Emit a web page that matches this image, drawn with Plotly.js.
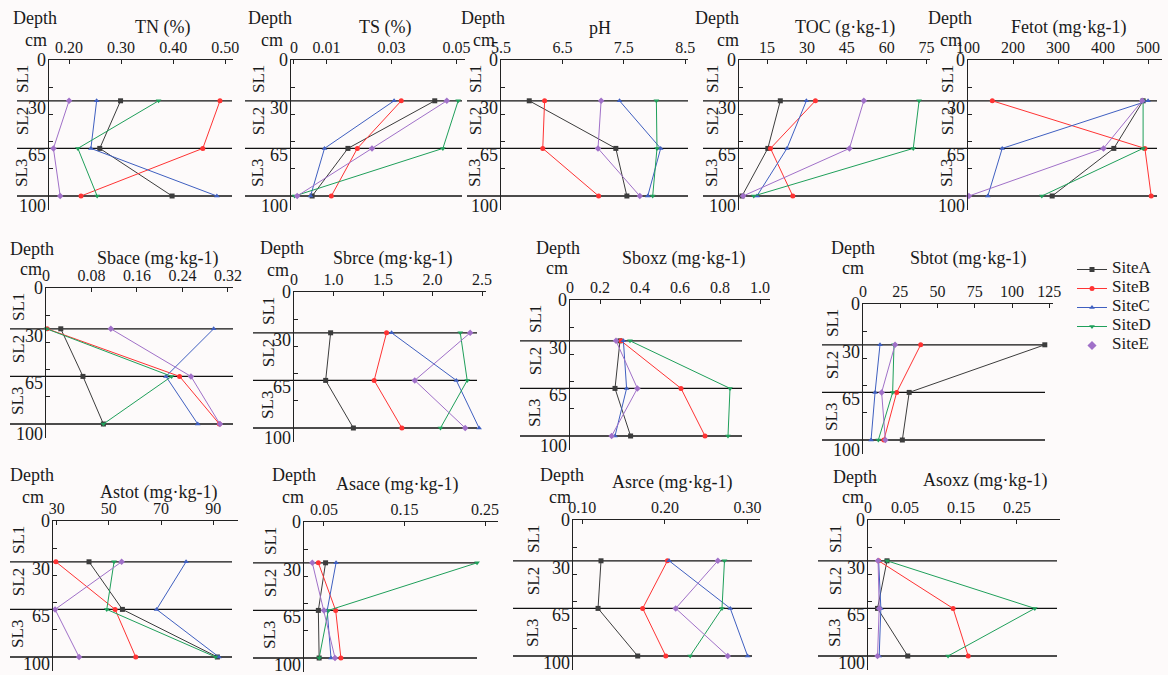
<!DOCTYPE html>
<html><head><meta charset="utf-8">
<script src="https://cdn.plot.ly/plotly-3.0.1.min.js"></script>
<style>html,body{margin:0;padding:0;background:#fdfafa;}#chart{width:1168px;height:675px;}</style>
</head><body><div id="chart"></div>
<script>
// ---- data (rows: SiteA..SiteE; columns: depth 30, 65, 100 cm) ----
const siteNames = ['SiteA','SiteB','SiteC','SiteD','SiteE'];
const depth = [30, 65, 100];
const TN    = [[0.299,0.259,0.398],[0.490,0.457,0.223],[0.253,0.242,0.484],[0.372,0.217,0.254],[0.200,0.170,0.183]];
const TS    = [[0.0433,0.0166,0.0056],[0.0330,0.0195,0.0115],[0.0308,0.0094,0.0051],[0.0505,0.0458,0.0002],[0.0470,0.0240,0.0010]];
const pH    = [[5.96,7.37,7.55],[6.21,6.18,7.09],[7.43,8.10,7.89],[8.03,8.04,7.97],[7.13,7.08,7.76]];
const TOC   = [[20.0,15.3,5.6],[33.2,16.3,24.7],[29.8,22.5,11.2],[72.2,70.0,10.0],[51.4,46.0,6.0]];
const Fetot = [[489,424,287],[154,493,507],[500,176,144],[489,489,264],[487,401,102]];
const Sbace = [[0.026,0.065,0.101],[0.002,0.235,0.305],[0.295,0.211,0.267],[0.001,0.221,0.101],[0.114,0.255,0.306]];
const Sbrce = [[0.97,0.92,1.20],[1.535,1.41,1.69],[1.586,2.24,2.47],[2.28,2.35,2.08],[2.38,1.82,2.33]];
const Sboxz = [[0.300,0.275,0.353],[0.305,0.605,0.725],[0.317,0.333,0.275],[0.350,0.850,0.840],[0.280,0.387,0.258]];
const Sbtot = [[122,31,26.4],[38.7,22.6,14],[11.4,8.1,5.4],[20.8,19.9,10.3],[21.5,12.5,15]];
const Astot = [[42.4,55.2,91.6],[29.7,52.4,60.3],[79.6,68.3,92.2],[52.0,49.2,90.9],[54.9,29.4,38.6]];
const Asace = [[0.052,0.043,0.044],[0.043,0.0645,0.071],[0.065,0.054,0.0587],[0.240,0.0554,0.044],[0.0355,0.050,0.0637]];
const Asrce = [[0.1226,0.119,0.167],[0.203,0.173,0.201],[0.205,0.279,0.300],[0.272,0.269,0.2305],[0.264,0.213,0.276]];
const Asoxz = [[0.018,0.001,0.055],[0.003,0.136,0.163],[0.003,0.007,0.004],[0.018,0.282,0.127],[0.002,0.004,0.001]];

const depthLabels = ['0','30','65','100'];
const layerLabels = ['SL1','SL2','SL3'];

// ---- styling ----
const colors  = ['#3c3c3c','#ff3333','#3f5fc0','#1f9f5a','#a070c8'];
const symbols = ['square','circle','triangle-up','triangle-down','diamond'];
const FONT = "'Liberation Serif', 'DejaVu Serif', serif";
const W = 1168, H = 675, PPD = 1.36, DMAX = 110;
const PX = x => x / W, PY = y => 1 - y / H;

// panel geometry (pixels)
const panels = [
 {d:TN,   t:'TN (%)',          ax:49,  ar:233, top:60, r:[0.1615,0.515], tv:[0.2,0.3,0.4,0.5], tt:['0.20','0.30','0.40','0.50'], lL:17,  lR:232, tx:162, ty:28, dx:35, dy:18, cx:36, cy:40, sl:22},
 {d:TS,   t:'TS (%)',          ax:291, ar:465, top:60, r:[-0.0009,0.0526], tv:[0,0.01,0.03,0.05], tt:['0','0.01','0.03','0.05'], lL:245, lR:462, tx:385, ty:28, dx:270, dy:18, cx:272, cy:40, sl:258},
 {d:pH,   t:'pH',              ax:501, ar:688, top:60, r:[5.5,8.545], tv:[5.5,6.5,7.5,8.5], tt:['5.5','6.5','7.5','8.5'], lL:467, lR:688, tx:600, ty:28, dx:483, dy:18, cx:484, cy:40, sl:475},
 {d:TOC,  t:'TOC (g·kg-1)',    ax:739, ar:930, top:60, r:[4.46,76.3], tv:[15,30,45,60,75], tt:['15','30','45','60','75'], lL:703, lR:925, tx:845, ty:28, dx:717, dy:18, cx:728, cy:40, sl:712},
 {d:Fetot,t:'Fetot (mg·kg-1)', ax:968, ar:1162, top:60, r:[100,531], tv:[100,200,300,400,500], tt:['100','200','300','400','500'], lL:925, lR:1157, tx:1068, ty:28, dx:950, dy:18, cx:951, cy:40, sl:947},
 {d:Sbace,t:'Sbace (mg·kg-1)', ax:46,  ar:233, top:288, r:[0,0.329], tv:[0,0.08,0.16,0.24,0.32], tt:['0','0.08','0.16','0.24','0.32'], lL:10, lR:233, tx:157, ty:259, dx:32, dy:249, cx:31, cy:269, sl:18},
 {d:Sbrce,t:'Sbrce (mg·kg-1)', ax:294, ar:486, top:292, r:[0.6,2.54], tv:[0.6,1.0,1.5,2.0,2.5], tt:['0','1.0','1.5','2.0','2.5'], lL:253, lR:477, tx:392, ty:258, dx:282, dy:248, cx:278, cy:270, sl:268},
 {d:Sboxz,t:'Sboxz (mg·kg-1)', ax:570, ar:770, top:300, r:[0.05,1.05], tv:[0.05,0.2,0.4,0.6,0.8,1.0], tt:['0','0.2','0.4','0.6','0.8','1.0'], lL:520, lR:742, tx:683, ty:258, dx:558, dy:248, cx:557, cy:268, sl:535},
 {d:Sbtot,t:'Sbtot (mg·kg-1)', ax:863, ar:1053, top:304, r:[0,127.5], tv:[0,25,50,75,100,125], tt:['0','25','50','75','100','125'], lL:822, lR:1045, tx:968, ty:258, dx:853, dy:248, cx:853, cy:268, sl:832},
 {d:Astot,t:'Astot (mg·kg-1)', ax:53,  ar:238, top:521, r:[28.6,99.5], tv:[30,50,70,90], tt:['30','50','70','90'], lL:10, lR:232, tx:158, ty:492, dx:32, dy:475, cx:33, cy:497, sl:18},
 {d:Asace,t:'Asace (mg·kg-1)', ax:304, ar:498, top:522, r:[0.0252,0.266], tv:[0.05,0.15,0.25], tt:['0.05','0.15','0.25'], lL:253, lR:477, tx:397, ty:484, dx:294, dy:475, cx:293, cy:497, sl:270},
 {d:Asrce,t:'Asrce (mg·kg-1)', ax:573, ar:760, top:520, r:[0.0887,0.315], tv:[0.1,0.2,0.3], tt:['0.10','0.20','0.30'], lL:513, lR:752, tx:672, ty:483, dx:562, dy:475, cx:560, cy:497, sl:533},
 {d:Asoxz,t:'Asoxz (mg·kg-1)', ax:868, ar:1060, top:520, r:[-0.016,0.327], tv:[-0.016,0.05,0.15,0.25], tt:['0','0.05','0.15','0.25'], lL:818, lR:1057, tx:985, ty:480, dx:855, dy:477, cx:853, cy:497, sl:835}
];

const traces = [], shapes = [], annotations = [];
const layout = {
  width: W, height: H, margin:{l:0,r:0,t:0,b:0},
  paper_bgcolor:'#fdfafa', plot_bgcolor:'rgba(0,0,0,0)',
  font:{family:FONT, size:15, color:'#1a1a1a'},
  showlegend:true,
  legend:{x:PX(1072), y:PY(255), xanchor:'left', yanchor:'top', bgcolor:'rgba(0,0,0,0)',
          font:{family:FONT, size:10, color:'#1a1a1a'}, tracegroupgap:0, itemwidth:30},
  shapes, annotations
};
const legendName = s => '<span style="font-size:17px">' + siteNames[s] + '</span>';

panels.forEach((p, i) => {
  const n = i + 1, xs = n === 1 ? '' : String(n);
  const xa = 'x' + xs, ya = 'y' + xs;
  layout['xaxis' + xs] = {
    domain:[PX(p.ax), PX(p.ar)], range:p.r, anchor:ya, side:'top',
    showline:true, linecolor:'#222', linewidth:1, mirror:false,
    showgrid:false, zeroline:false, ticks:'inside', ticklen:4, tickcolor:'#222',
    tickmode:'array', tickvals:p.tv, ticktext:p.tt,
    tickfont:{family:FONT, size:16, color:'#1a1a1a'}, fixedrange:true
  };
  layout['yaxis' + xs] = {
    domain:[PY(p.top + DMAX * PPD), PY(p.top)], range:[DMAX, 0], anchor:xa,
    showline:true, linecolor:'#222', linewidth:1, showgrid:false, zeroline:false,
    ticks:'inside', ticklen:4, tickcolor:'#222', tickmode:'array', tickvals:[20,40,60,80],
    showticklabels:false, fixedrange:true
  };
  p.d.forEach((vals, s) => {
    traces.push({
      type:'scatter', mode:'lines+markers', x:vals, y:depth, xaxis:xa, yaxis:ya,
      name:legendName(s), showlegend:(n === 9 && s < 4),
      line:{color:colors[s], width:1},
      marker:{color:colors[s], symbol:symbols[s], size:5},
      cliponaxis:false, hoverinfo:'skip'
    });
  });
  depth.forEach(dv => shapes.push({
    type:'line', xref:'paper', yref:ya, x0:PX(p.lL), x1:PX(p.lR), y0:dv, y1:dv,
    line:{color:'#111', width:1.3}, layer:'below'
  }));
  annotations.push({xref:'paper', yref:'paper', x:PX(p.tx), y:PY(p.ty), text:p.t, showarrow:false,
    font:{family:FONT, size:18, color:'#1a1a1a'}, xanchor:'center', yanchor:'middle'});
  annotations.push({xref:'paper', yref:'paper', x:PX(p.dx), y:PY(p.dy), text:'Depth', showarrow:false,
    font:{family:FONT, size:18, color:'#1a1a1a'}, xanchor:'center', yanchor:'middle'});
  annotations.push({xref:'paper', yref:'paper', x:PX(p.cx), y:PY(p.cy), text:'cm', showarrow:false,
    font:{family:FONT, size:18, color:'#1a1a1a'}, xanchor:'center', yanchor:'middle'});
  const lastDepth = p.top > 500 ? 105.5 : 107;
  const labelDepths = [0, 35, 70, lastDepth];
  depthLabels.forEach((lab, k) => annotations.push({xref:'paper', yref:ya, x:PX(p.ax - 1), y:labelDepths[k],
    text:lab, showarrow:false, font:{family:FONT, size:18, color:'#1a1a1a'}, xanchor:'right', yanchor:'middle'}));
  const slDepths = [14, 45, 83];
  layerLabels.forEach((lab, k) => annotations.push({xref:'paper', yref:ya, x:PX(p.sl), y:slDepths[k],
    text:lab, showarrow:false, textangle:-90, font:{family:FONT, size:17, color:'#1a1a1a'},
    xanchor:'center', yanchor:'middle'}));
});

// SiteE key: marker only, as in the reference legend (no data drawn by this entry)
traces.push({type:'scatter', mode:'markers', x:[null], y:[null], xaxis:'x9', yaxis:'y9',
  name:legendName(4), showlegend:true, marker:{color:colors[4], symbol:symbols[4], size:7}, hoverinfo:'skip'});

Plotly.newPlot('chart', traces, layout, {displayModeBar:false, staticPlot:true});
</script>
</body></html>
